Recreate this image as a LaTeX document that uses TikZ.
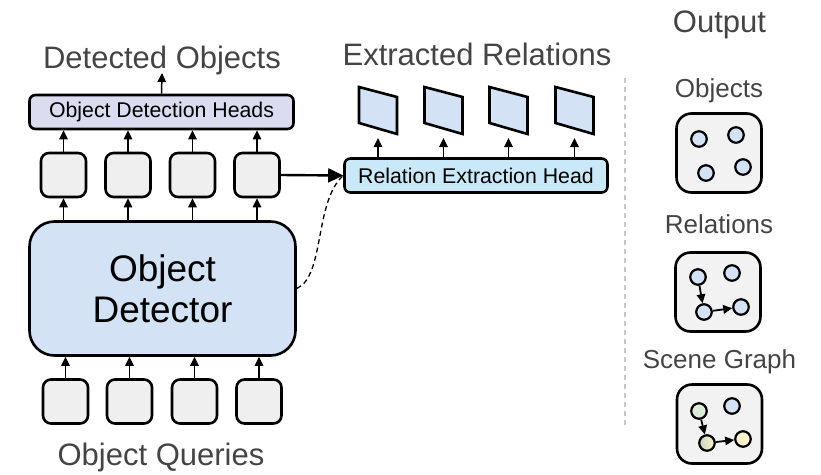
\documentclass[tikz,border=0pt]{standalone}
\usepackage{fontspec}
\setmainfont{Liberation Sans}
\usetikzlibrary{arrows.meta,calc}

\definecolor{headgray}{HTML}{444444}
\definecolor{detfill}{HTML}{D3E3F5}
\definecolor{odhfill}{HTML}{DBDCF0}
\definecolor{rehfill}{HTML}{C9E9F8}
\definecolor{tokfill}{HTML}{EFEFEF}
\definecolor{outfill}{HTML}{F2F2F2}
\definecolor{nodeblue}{HTML}{D3E3F5}
\definecolor{nodegreen}{HTML}{DCEBD4}
\definecolor{nodeyellow}{HTML}{FDF1CB}
\definecolor{divgray}{HTML}{C8C8C8}

\begin{document}
\begin{tikzpicture}[x=1pt,y=-1pt,
  heading/.style={text=headgray,font=\fontsize{31}{37}\selectfont,anchor=base,inner sep=0},
  subheading/.style={text=headgray,font=\fontsize{26}{31}\selectfont,anchor=base,inner sep=0},
  tok/.style={draw=black,line width=2.6pt,fill=tokfill,rounded corners=8pt,
    minimum width=45pt,minimum height=44pt,inner sep=0},
  headbox/.style={draw=black,line width=2.6pt,rounded corners=6pt,
    minimum height=34pt,inner sep=0,font=\fontsize{21.3}{25}\selectfont},
  outbox/.style={draw=black,line width=2.6pt,fill=outfill,rounded corners=15pt,
    minimum width=85pt,minimum height=79pt,inner sep=0},
  dot/.style={circle,draw=black,line width=2.2pt,minimum size=15.5pt,inner sep=0},
  arr/.style={line width=1.5pt,-{Triangle[width=8.5pt,length=9pt]}},
  relarr/.style={line width=1.8pt,-{Triangle[width=8.5pt,length=9pt]}},
]
\useasboundingbox (0,0) rectangle (821,474);

% ---- object detector and its inputs/outputs ----
\node[draw=black,line width=2.6pt,fill=detfill,rounded corners=25pt,
  minimum width=266pt,minimum height=134pt,inner sep=0,align=center,
  font=\fontsize{37}{41}\selectfont] (od) at (162.5,288.5) {Object\\Detector};

\foreach \i/\x in {1/63.5,2/128,3/192.5,4/257}{
  \node[tok] (t\i) at (\x,175) {};
}
\foreach \i/\x in {1/65.5,2/129.5,3/194.5,4/259}{
  \node[tok] (q\i) at (\x,401.5) {};
}

\node[headbox,fill=odhfill,minimum width=264pt] (odh) at (161.5,112) {Object Detection Heads};
\node[headbox,fill=rehfill,minimum width=263pt] (reh) at (476,175.5) {Relation Extraction Head};

\foreach \i in {1,...,4}{
  \draw[arr] (t\i |- od.north) -- (t\i.south);
  \draw[arr] (t\i.north) -- (t\i |- odh.south);
  \draw[arr] (q\i.north) -- (q\i |- od.south);
}

% ---- labels ----
\node[heading] (detlbl) at (162,68) {Detected Objects};
\node[heading] (rellbl) at (477,65) {Extracted Relations};
\node[heading] (qlbl) at (161,465) {Object Queries};
\coordinate (dtip) at (162,73);
\draw[arr] (odh.north) -- (dtip);

% ---- relation outputs (skewed cards) ----
\foreach \i/\x in {1/378,2/443.5,3/508.5,4/574.5}{
  \draw[line width=2.6pt,fill=detfill,line join=miter]
    (\x-19,87) -- (\x+19,97) -- (\x+19,134) -- (\x-19,123) -- cycle;
  \coordinate (r\i) at (\x,138);
  \draw[arr] (r\i |- reh.north) -- (r\i);
}

% ---- connections into the relation head ----
\draw[line width=2.4pt,-{Triangle[width=14pt,length=15pt]}] (t4.east) -- (reh.west);
\draw[line width=1.3pt,dash pattern=on 5pt off 3.5pt] (od.east) .. controls (325,276) and (314,202) .. (reh.west);

% ---- divider ----
\draw[divgray,line width=1.2pt,dash pattern=on 5pt off 4pt] (625,78) -- (625,428);

% ---- output panel ----
\node[heading] (outlbl) at (719.5,32) {Output};
\node[subheading] (objlbl) at (719,97) {Objects};
\node[subheading] (rlbl) at (719,233) {Relations};
\node[subheading] (sglbl) at (719.5,368) {Scene Graph};

\node[outbox] (ob1) at (719,153) {};
\node[outbox] (ob2) at (718,292) {};
\node[outbox] (ob3) at (719.5,424) {};

% objects
\node[dot,fill=nodeblue] (a1) at (699,139) {};
\node[dot,fill=nodeblue] (a2) at (736,135) {};
\node[dot,fill=nodeblue] (a3) at (706,173) {};
\node[dot,fill=nodeblue] (a4) at (743,167) {};

% relations
\node[dot,fill=nodeblue] (b1) at (698,277) {};
\node[dot,fill=nodeblue] (b2) at (732,273) {};
\node[dot,fill=nodeblue] (b3) at (704,312) {};
\node[dot,fill=nodeblue] (b4) at (741,307) {};
\draw[relarr] (b1) -- (b3);
\draw[relarr] (b3) -- (b4);

% scene graph
\node[dot,fill=nodegreen] (c1) at (699,411) {};
\node[dot,fill=nodeblue] (c2) at (732,406) {};
\node[dot,left color=nodegreen!90!black!95,right color=nodeyellow] (c3) at (707,443) {};
\node[dot,fill=nodeyellow] (c4) at (743,439) {};
\draw[relarr] (c1) -- (c3);
\draw[relarr] (c3) -- (c4);
\end{tikzpicture}
\end{document}
